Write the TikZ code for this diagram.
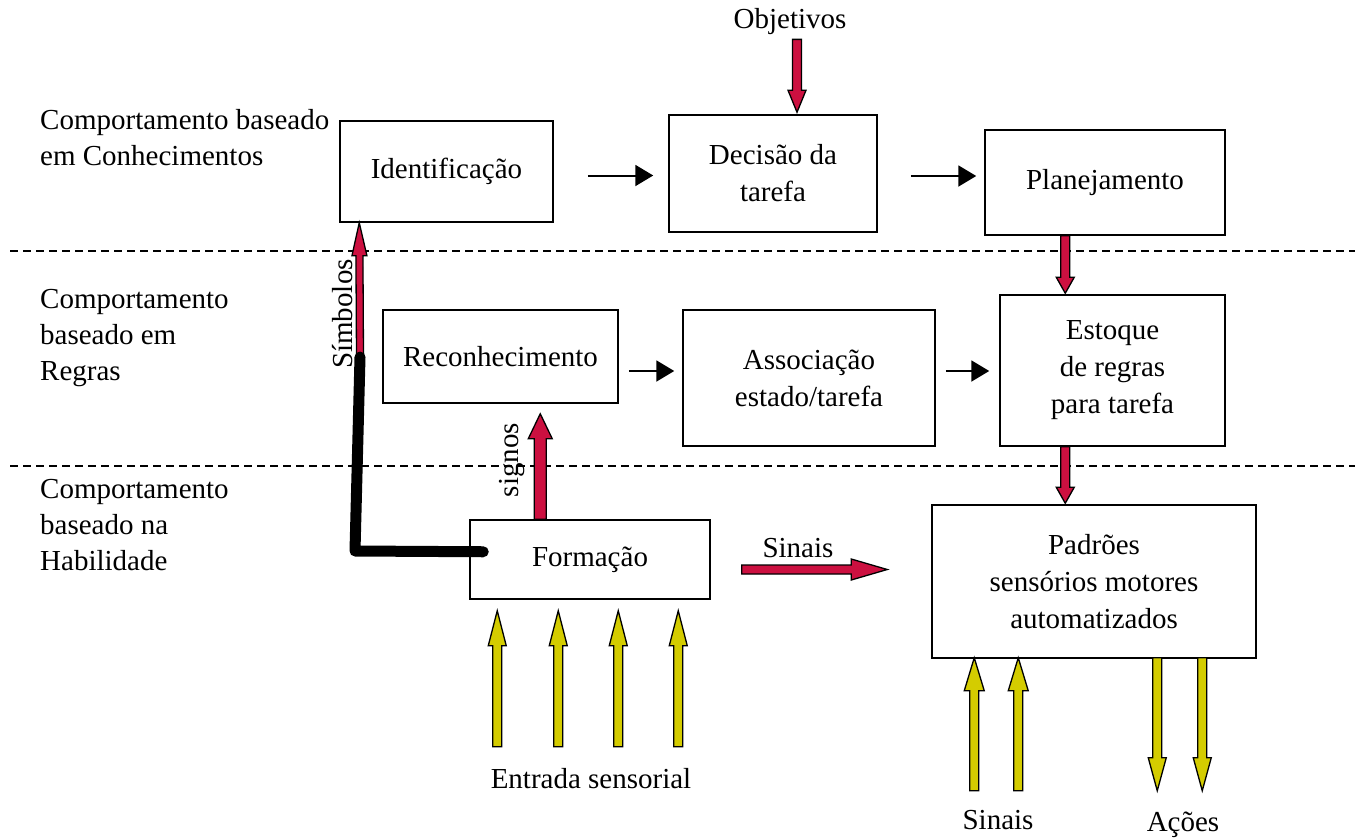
\documentclass[tikz,border=0pt]{standalone}
\usepackage{fontspec}
\setmainfont{Liberation Serif}
\usetikzlibrary{calc,arrows.meta}
\definecolor{ared}{RGB}{204,16,64}
\definecolor{ayel}{RGB}{212,204,0}
% block arrow: #1 fill, #2 from, #3 to, #4 shaft half width, #5 head half width, #6 head length
\newcommand\barrow[6]{%
  \coordinate (bh) at ($(#3)!#6!(#2)$);
  \draw[fill=#1, line width=1.3pt, line join=miter]
    ($(#2)!#4!90:(#3)$) -- ($(bh)!#4!90:(#3)$) -- ($(bh)!#5!90:(#3)$) -- (#3)
    -- ($(bh)!#5!-90:(#3)$) -- ($(bh)!#4!-90:(#3)$) -- ($(#2)!#4!-90:(#3)$) -- cycle;
}
\begin{document}
\begin{tikzpicture}[x=1pt,y=-1pt,
  txt/.style={font=\fontsize{29}{36}\selectfont, inner sep=0pt},
  box/.style={draw, line width=1.5pt, align=center, font=\fontsize{29}{37}\selectfont, inner sep=0pt},
  lbl/.style={txt, align=left, anchor=west},
  sep/.style={line width=1.2pt, dash pattern=on 8pt off 5pt},
  arr/.style={line width=2pt, -{Triangle[length=18pt,width=21pt]}}
]
\useasboundingbox (0,0) rectangle (1364,839);

% separators
\draw[sep] (10,251) coordinate (s1a) -- (1355,251) coordinate (s1b);
\draw[sep] (10,466) coordinate (s2a) -- (1355,466) coordinate (s2b);

% left labels
\node[lbl] (l1) at (40,137.5) {Comportamento baseado\\em Conhecimentos};
\node[lbl] (l2) at (40,338) {Comportamento\\baseado em\\Regras};
\node[lbl] (l3) at (40,525.5) {Comportamento\\baseado na\\Habilidade};

% boxes
\node[box, minimum width=213, minimum height=101] (idf) at (446.5,171.5) {Identificação};
\node[box, minimum width=208, minimum height=117] (dec) at (773,173.5) {Decisão da\\tarefa};
\node[box, minimum width=240, minimum height=105] (plan) at (1105,182.5) {Planejamento};
\node[box, minimum width=235, minimum height=93] (rec) at (500.5,356.5) {Reconhecimento};
\node[box, minimum width=252, minimum height=136] (ass) at (809,378) {Associação\\estado/tarefa};
\node[box, minimum width=225, minimum height=151] (est) at (1112.5,370.5) {Estoque\\de regras\\para tarefa};
\node[box, minimum width=240, minimum height=79] (form) at (590,559.5) {Formação};
\node[box, minimum width=324, minimum height=153] (pad) at (1094,581.5) {Padrões\\sensórios motores\\automatizados};

% free texts
\node[txt] (obj) at (790,22) {Objetivos};
\node[txt] (ent) at (591,779) {Entrada sensorial};
\node[txt] (sin2) at (998,820) {Sinais};
\node[txt] (aco) at (1183,825) {Ações};
\node[txt] (sin1) at (798,548) {Sinais};
\node[txt, rotate=90] (simb) at (343,314) {Símbolos};
\node[txt, rotate=90] (sig) at (512,460) {signos};

% thin black arrows
\draw[arr] ($(idf.east)+(34,4)$) -- ($(dec.west)+(-15,2)$);
\draw[arr] ($(dec.east)+(33,2.5)$) -- ($(plan.west)+(-8,-6.5)$);
\draw[arr] ($(rec.east)+(10,14.5)$) -- ($(ass.west)+(-8,-7)$);
\draw[arr] ($(ass.east)+(10,-7)$) -- ($(est.west)+(-10,0.5)$);

% red block arrows
\coordinate (objs) at ($(obj.south)+(7,4)$);
\coordinate (objt) at ($(dec.north)+(24,-2)$);
\barrow{ared}{objs}{objt}{4.5pt}{9pt}{22pt}
\coordinate (pl1) at ($(plan.south west)+(81,0)$);
\coordinate (es1) at ($(est.north west)+(66,-1)$);
\barrow{ared}{pl1}{es1}{4.5pt}{9pt}{16pt}
\coordinate (es2) at ($(est.south west)+(66,0)$);
\coordinate (pd1) at ($(pad.north west)+(134,-1)$);
\barrow{ared}{es2}{pd1}{4.5pt}{9pt}{16pt}
\coordinate (sj) at (360,357);
\coordinate (symt) at ($(idf.south west)+(20,0)$);
\barrow{ared}{sj}{symt}{3.5pt}{7.5pt}{33pt}
\coordinate (sgs) at ($(form.north west)+(71,0)$);
\coordinate (sgt) at ($(rec.south west)+(158,10)$);
\barrow{ared}{sgs}{sgt}{6pt}{12pt}{25pt}
\coordinate (sns) at ($(form.east)+(31,10)$);
\coordinate (snt) at ($(pad.west |- form.east)+(-44,10)$);
\barrow{ared}{sns}{snt}{4.5pt}{10.5pt}{36pt}

% thick black L
\draw[line width=11pt, line cap=round, line join=round] (sj) -- (355,551) -- ($(form.south west)+(14,-48)$);

% yellow arrows into Formacao
\foreach \i/\xx in {1/28,2/89,3/149,4/209}{
  \coordinate (ya\i) at ($(form.south west)+(\xx,147)$);
  \coordinate (yb\i) at ($(form.south west)+(\xx,11)$);
  \barrow{ayel}{ya\i}{yb\i}{4.5pt}{9pt}{35pt}
}
% yellow arrows at Padroes
\foreach \i/\xx in {1/43,2/87}{
  \coordinate (pa\i) at ($(pad.south west)+(\xx,132)$);
  \coordinate (pb\i) at ($(pad.south west)+(\xx,-1)$);
  \barrow{ayel}{pa\i}{pb\i}{4.5pt}{10pt}{33pt}
}
\foreach \i/\xx in {1/226,2/271}{
  \coordinate (pc\i) at ($(pad.south west)+(\xx,-1)$);
  \coordinate (pd\i) at ($(pad.south west)+(\xx,132)$);
  \barrow{ayel}{pc\i}{pd\i}{4.5pt}{9pt}{33pt}
}
\end{tikzpicture}
\end{document}
